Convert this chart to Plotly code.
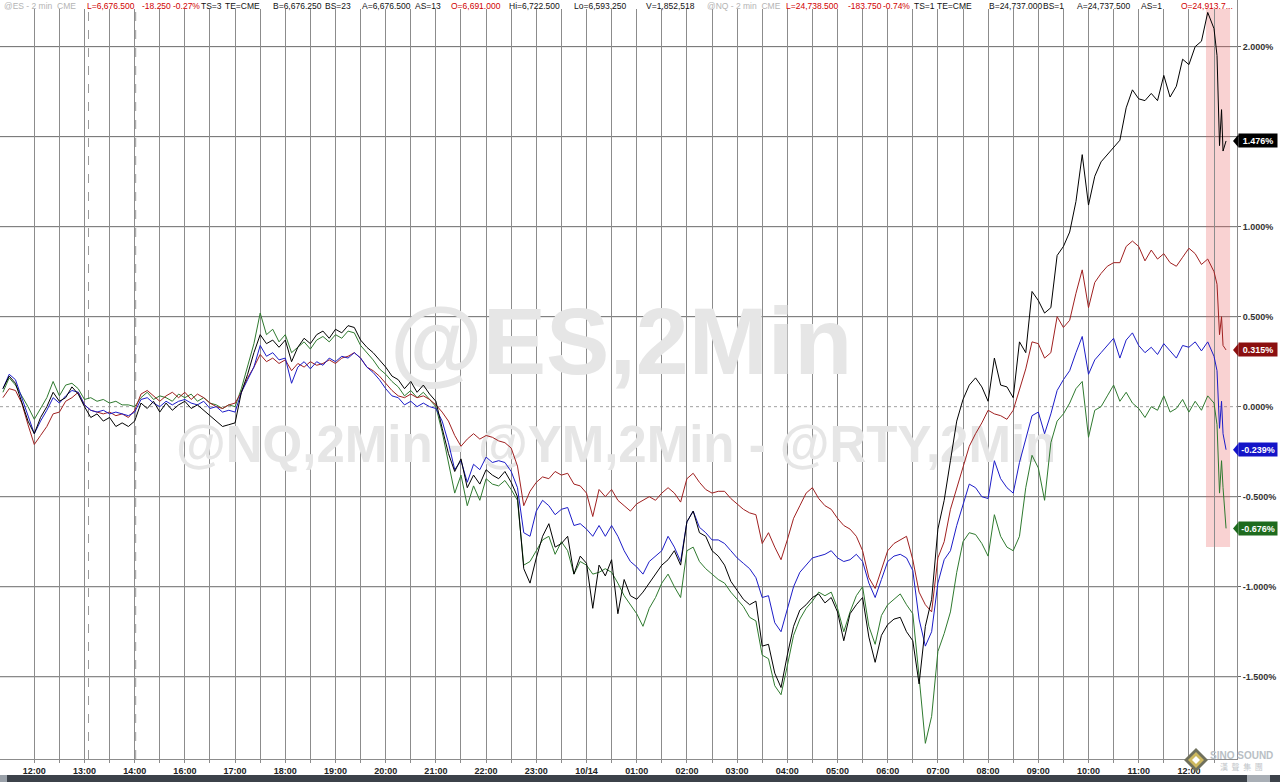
import numpy as np
import plotly.graph_objects as go

# hour labels on the session axis (14:00 -> 16:00 is the break)
hour_labels = ["12:00", "13:00", "14:00", "16:00", "17:00", "18:00", "19:00", "20:00",
               "21:00", "22:00", "23:00", "10/14", "01:00", "02:00", "03:00", "04:00",
               "05:00", "06:00", "07:00", "08:00", "09:00", "10:00", "11:00", "12:00"]

# time index in hours from the first 12:00 label (7.5 min steps, then the last bars)
t_main = np.arange(-0.625, 23.4, 0.125)
t_tail = [23.50, 23.56, 23.61, 23.65, 23.68, 23.74]
t = list(t_main) + t_tail

# % change
nq = [0.10, 0.17, 0.13, 0.02, -0.08,
      -0.15, -0.06, 0.00, 0.08, 0.03, 0.05, 0.11, 0.07,
      0.00, -0.06, -0.04, -0.08, -0.06, -0.11, -0.09, -0.11,
      -0.08, 0.02, -0.01, 0.03, -0.03, 0.02, -0.02, 0.01,
      0.03, -0.01, 0.01, -0.02, -0.05, -0.08, -0.11, -0.10,
      -0.09, 0.08, 0.18, 0.30, 0.40, 0.35, 0.37, 0.33,
      0.37, 0.25, 0.33, 0.38, 0.35, 0.40, 0.42, 0.38,
      0.43, 0.41, 0.45, 0.44, 0.37, 0.33, 0.30, 0.26,
      0.22, 0.17, 0.15, 0.10, 0.14, 0.08, 0.12, 0.07,
      0.03, -0.12, -0.26, -0.36, -0.29, -0.45, -0.38, -0.43,
      -0.35, -0.38, -0.40, -0.36, -0.42, -0.50, -0.90, -0.98,
      -0.84, -0.72, -0.65, -0.78, -0.76, -0.72, -0.93, -0.83,
      -0.87, -1.12, -0.88, -0.94, -0.85, -1.15, -0.96, -1.05,
      -1.07, -1.03, -0.98, -0.93, -0.88, -0.85, -0.80, -0.88,
      -0.64, -0.58, -0.70, -0.72, -0.80, -0.83, -0.88, -0.97,
      -1.02, -1.07, -1.10, -1.08, -1.33, -1.32, -1.48, -1.56,
      -1.38, -1.22, -1.13, -1.10, -1.06, -1.04, -1.09, -1.06,
      -1.14, -1.30, -1.15, -1.10, -1.06, -1.28, -1.42, -1.27,
      -1.21, -1.18, -1.17, -1.25, -1.30, -1.54, -1.22, -1.07,
      -0.68, -0.52, -0.30, -0.08, 0.04, 0.12, 0.16, 0.11,
      0.03, 0.27, 0.12, 0.11, 0.05, 0.36, 0.30, 0.64,
      0.59, 0.52, 0.55, 0.84, 0.89, 0.97, 1.14, 1.40,
      1.12, 1.28, 1.36, 1.40, 1.44, 1.48, 1.66, 1.76,
      1.71, 1.70, 1.74, 1.70, 1.84, 1.72, 1.78, 1.93,
      1.90, 2.00, 2.03, 2.19, 2.10, 1.95, 1.45, 1.65, 1.42, 1.476]

ym = [0.05, 0.10, 0.09, 0.02, -0.10,
      -0.21, -0.16, -0.11, -0.04, -0.03, 0.03, 0.05, 0.08,
      0.01, -0.02, -0.03, -0.04, -0.03, -0.05, -0.04, -0.06,
      -0.02, 0.07, 0.09, 0.06, 0.03, 0.06, 0.08, 0.05,
      0.08, 0.04, 0.07, 0.05, 0.02, 0.00, -0.01, 0.01,
      0.02, 0.08, 0.16, 0.22, 0.29, 0.25, 0.27, 0.24,
      0.26, 0.20, 0.24, 0.22, 0.25, 0.23, 0.24, 0.26,
      0.24, 0.27, 0.28, 0.30, 0.27, 0.22, 0.20, 0.17,
      0.13, 0.09, 0.06, 0.05, 0.07, 0.05, 0.06, 0.04,
      0.01, -0.03, -0.08, -0.16, -0.22, -0.18, -0.15, -0.18,
      -0.16, -0.17, -0.19, -0.20, -0.23, -0.33, -0.55, -0.47,
      -0.42, -0.39, -0.40, -0.36, -0.38, -0.37, -0.43, -0.44,
      -0.48, -0.61, -0.46, -0.50, -0.46, -0.52, -0.55, -0.58,
      -0.54, -0.52, -0.50, -0.52, -0.48, -0.45, -0.48, -0.53,
      -0.40, -0.37, -0.42, -0.46, -0.48, -0.47, -0.47, -0.51,
      -0.54, -0.57, -0.59, -0.60, -0.76, -0.70, -0.78, -0.85,
      -0.74, -0.62, -0.55, -0.48, -0.45, -0.51, -0.55, -0.57,
      -0.62, -0.66, -0.68, -0.72, -0.80, -0.95, -1.01, -0.90,
      -0.80, -0.76, -0.74, -0.72, -0.85, -1.03, -1.10, -1.14,
      -0.84, -0.75, -0.57, -0.45, -0.34, -0.22, -0.15, -0.09,
      -0.02, -0.04, -0.05, -0.07, -0.02, 0.09, 0.21, 0.36,
      0.35, 0.27, 0.30, 0.50, 0.44, 0.48, 0.63, 0.76,
      0.55, 0.69, 0.74, 0.78, 0.80, 0.80, 0.89, 0.92,
      0.89, 0.81, 0.87, 0.82, 0.85, 0.80, 0.78, 0.83,
      0.88, 0.85, 0.79, 0.82, 0.75, 0.68, 0.40, 0.50, 0.34, 0.315]

es = [0.10, 0.18, 0.15, 0.05, -0.06,
      -0.15, -0.08, -0.02, 0.05, 0.02, 0.06, 0.09, 0.08,
      0.01, -0.02, -0.03, -0.02, -0.04, -0.03, -0.04, -0.05,
      -0.03, 0.04, 0.05, 0.02, 0.00, 0.03, 0.01, 0.03,
      0.04, 0.02, 0.01, 0.03, -0.01, 0.00, -0.03, -0.02,
      -0.03, 0.08, 0.15, 0.22, 0.34, 0.28, 0.30, 0.26,
      0.27, 0.13, 0.22, 0.25, 0.21, 0.25, 0.23, 0.27,
      0.25, 0.28, 0.27, 0.30, 0.27, 0.22, 0.19, 0.15,
      0.10, 0.06, 0.05, 0.01, 0.03, 0.00, 0.02, 0.00,
      -0.01, -0.08, -0.20, -0.35, -0.30, -0.42, -0.32, -0.35,
      -0.28, -0.31, -0.30, -0.31, -0.36, -0.45, -0.70, -0.72,
      -0.58, -0.52, -0.55, -0.60, -0.57, -0.56, -0.66, -0.65,
      -0.68, -0.72, -0.66, -0.72, -0.66, -0.72, -0.80, -0.86,
      -0.89, -0.93, -0.86, -0.83, -0.80, -0.72, -0.78, -0.86,
      -0.64, -0.58, -0.67, -0.70, -0.74, -0.74, -0.76, -0.80,
      -0.84, -0.87, -0.90, -0.95, -1.06, -1.05, -1.20, -1.25,
      -1.12, -1.00, -0.92, -0.88, -0.84, -0.83, -0.82, -0.80,
      -0.84, -0.86, -0.85, -0.82, -0.86, -0.98, -1.06, -0.96,
      -0.86, -0.83, -0.82, -0.84, -0.91, -1.18, -1.33, -1.25,
      -0.98, -0.85, -0.80, -0.66, -0.54, -0.43, -0.45, -0.50,
      -0.51, -0.30, -0.40, -0.45, -0.48, -0.31, -0.18, -0.05,
      -0.03, -0.15, -0.04, 0.09, 0.15, 0.20, 0.30, 0.39,
      0.18, 0.26, 0.30, 0.34, 0.38, 0.27, 0.37, 0.41,
      0.34, 0.30, 0.33, 0.29, 0.35, 0.31, 0.27, 0.34,
      0.33, 0.36, 0.31, 0.36, 0.28, 0.20, -0.12, 0.03, -0.15, -0.239]

rty = [0.08, 0.16, 0.12, 0.06, 0.00,
       -0.07, -0.01, 0.05, 0.14, 0.06, 0.12, 0.13, 0.10,
       0.04, 0.05, 0.03, 0.04, 0.02, 0.03, 0.01, 0.01,
       0.00, 0.05, 0.08, 0.04, 0.06, 0.05, 0.03, 0.07,
       0.05, 0.07, 0.03, 0.05, 0.02, 0.01, -0.01, 0.01,
       0.00, 0.10, 0.22, 0.35, 0.52, 0.40, 0.43, 0.36,
       0.40, 0.30, 0.33, 0.36, 0.32, 0.37, 0.39, 0.36,
       0.40, 0.38, 0.42, 0.41, 0.34, 0.30, 0.26, 0.21,
       0.18, 0.14, 0.11, 0.06, 0.09, 0.05, 0.08, 0.04,
       0.00, -0.14, -0.32, -0.48, -0.38, -0.55, -0.44, -0.52,
       -0.40, -0.43, -0.44, -0.41, -0.46, -0.52, -0.88, -0.86,
       -0.80, -0.74, -0.72, -0.82, -0.75, -0.80, -0.93, -0.86,
       -0.88, -0.93, -0.92, -0.90, -0.92, -0.98, -1.05, -1.10,
       -1.15, -1.22, -1.12, -1.06, -0.98, -0.93, -1.00, -1.06,
       -0.80, -0.78, -0.86, -0.90, -0.93, -0.96, -0.98, -1.03,
       -1.07, -1.11, -1.17, -1.19, -1.38, -1.40, -1.55, -1.60,
       -1.44, -1.27, -1.18, -1.12, -1.08, -1.03, -1.05, -1.03,
       -1.12, -1.25, -1.14, -1.05, -1.00, -1.22, -1.32, -1.16,
       -1.10, -1.07, -1.04, -1.10, -1.15, -1.50, -1.87, -1.72,
       -1.36, -1.26, -1.14, -0.92, -0.75, -0.70, -0.71, -0.76,
       -0.83, -0.60, -0.72, -0.78, -0.80, -0.72, -0.45, -0.27,
       -0.34, -0.52, -0.20, -0.08, -0.04, 0.02, 0.10, 0.14,
       -0.17, -0.02, 0.00, 0.06, 0.12, 0.03, 0.08, 0.02,
       -0.01, -0.06, 0.00, -0.02, 0.06, -0.03, -0.01, 0.04,
       -0.03, 0.03, -0.02, 0.06, 0.02, -0.10, -0.48, -0.30, -0.45, -0.676]

ytick_vals = [-1.5, -1.0, -0.5, 0.0, 0.5, 1.0, 1.5, 2.0]

# (text, colour, left edge in px) for the quote line at the top
header = [("@ES - 2 min  CME", "#b4b4b4", 2), ("L=6,676.500", "#d00000", 85),
          ("-18.250", "#d00000", 140), ("-0.27%", "#d00000", 171), ("TS=3", "#111", 199),
          ("TE=CME", "#111", 223), ("B=6,676.250", "#111", 271), ("BS=23", "#111", 323),
          ("A=6,676.500", "#111", 360), ("AS=13", "#111", 413), ("O=6,691.000", "#d00000", 449),
          ("Hi=6,722.500", "#111", 507), ("Lo=6,593.250", "#111", 572), ("V=1,852,518", "#111", 644),
          ("@NQ - 2 min  CME", "#b4b4b4", 705), ("L=24,738.500", "#d00000", 784),
          ("-183.750", "#d00000", 846), ("-0.74%", "#d00000", 881), ("TS=1", "#111", 912),
          ("TE=CME", "#111", 935), ("B=24,737.000", "#111", 987), ("BS=1", "#111", 1041),
          ("A=24,737.500", "#111", 1075), ("AS=1", "#111", 1139), ("O=24,913.7...", "#d00000", 1179)]

series = [("RTY", rty, "#2f7a2f", "#1e6b1e"),
          ("YM", ym, "#a02020", "#8b1010"),
          ("ES", es, "#1c1cc8", "#1414c8"),
          ("NQ", nq, "#000000", "#000000")]

PW = 1237.0  # plot width in px
PH = 759.0   # plot height in px

fig = go.Figure()

# watermark under the lines
fig.add_trace(go.Scatter(x=[11.69, 11.59], y=[0.315, -0.235], mode="text",
                         text=["@ES,2Min", "@NQ,2Min - @YM,2Min - @RTY,2Min"],
                         textfont=dict(size=[95, 51], color="#e6e6e6", family="Liberation Sans, Arial",
                                       weight="bold"),
                         hoverinfo="skip", showlegend=False))

for name, vals, col, tagcol in series:
    fig.add_trace(go.Scatter(x=t, y=vals, mode="lines", name=name,
                             line=dict(color=col, width=1), showlegend=False))

shapes = []
# red highlight of the last bars
shapes.append(dict(type="rect", xref="x", yref="y", x0=23.34, x1=23.82, y0=-0.78, y1=2.26,
                   fillcolor="rgba(235,95,95,0.28)", line=dict(width=0), layer="below"))
for v in ytick_vals:
    shapes.append(dict(type="line", xref="paper", yref="y", x0=0, x1=1, y0=v, y1=v,
                       line=dict(color="#a0a0a0" if v == 0 else "#6a6a6a", width=1,
                                 dash="dot" if v == 0 else "solid"), layer="below"))
# session separators
for xv in [1.08, 2.02]:
    shapes.append(dict(type="line", xref="x", yref="paper", x0=xv, x1=xv, y0=0, y1=1,
                       line=dict(color="#9a9a9a", width=1, dash="dash"), layer="below"))
# white band behind the quote line
shapes.append(dict(type="rect", xref="paper", yref="paper", x0=0, x1=1, y0=1 - 9 / PH, y1=1,
                   fillcolor="white", line=dict(width=0), layer="above"))
# dark strip at the bottom
shapes.append(dict(type="rect", xref="paper", yref="paper", x0=0, x1=1280 / PW,
                   y0=-(782 - PH) / PH, y1=-(775 - PH) / PH,
                   fillcolor="#3c424a", line=dict(width=0), layer="above"))
shapes.append(dict(type="rect", xref="paper", yref="paper", x0=0, x1=7 / PW,
                   y0=-(782 - PH) / PH, y1=-(775 - PH) / PH,
                   fillcolor="#9aa1a9", line=dict(width=0), layer="above"))
shapes.append(dict(type="rect", xref="paper", yref="paper", x0=1247 / PW, x1=1270 / PW,
                   y0=-(782 - PH) / PH, y1=-(775 - PH) / PH,
                   fillcolor="#a8aeb5", line=dict(width=0), layer="above"))
# logo diamond
cx, cy = 1196 / PW, (PH - 760) / PH
for r, c in [(12, "#6f705c"), (8, "#cdb85e"), (4, "#ffffff")]:
    dx, dy = r / PW, r / PH
    shapes.append(dict(type="path", xref="paper", yref="paper",
                       path=f"M {cx - dx} {cy} L {cx} {cy + dy} L {cx + dx} {cy} L {cx} {cy - dy} Z",
                       fillcolor=c, line=dict(width=0), layer="above"))

annotations = []
for txt, col, px in header:
    annotations.append(dict(text=txt, xref="paper", yref="paper", x=px / PW, y=1,
                            xanchor="left", yanchor="top", showarrow=False, yshift=1,
                            font=dict(size=8.5, color=col, family="Liberation Sans, Arial")))

# last-value tags on the right
for name, vals, col, tagcol in series:
    v = vals[-1]
    annotations.append(dict(text=f"<b>{v:.3f}%</b>", xref="paper", yref="y", x=1, y=v,
                            xanchor="left", yanchor="middle", xshift=1, showarrow=False,
                            width=36, height=11, borderpad=1, bgcolor=tagcol, align="center",
                            font=dict(size=9, color="white", family="Liberation Sans, Arial")))
    shapes.append(dict(type="path", xref="paper", yref="y",
                       path=f"M {1233 / PW} {v} L {1238.5 / PW} {v + 0.036} L {1238.5 / PW} {v - 0.036} Z",
                       fillcolor=tagcol, line=dict(width=0), layer="above"))

annotations.append(dict(text="<b>SINO SOUND</b>", xref="paper", yref="paper", x=1241 / PW,
                        y=(PH - 755) / PH, showarrow=False, xanchor="center", yanchor="middle",
                        font=dict(size=10, color="#b9bfc5", family="Liberation Sans, Arial")))
annotations.append(dict(text="漢  聲  集  團", xref="paper", yref="paper", x=1241 / PW,
                        y=(PH - 766) / PH, showarrow=False, xanchor="center", yanchor="middle",
                        font=dict(size=8, color="#c2c6ca", family="Noto Sans CJK TC")))

fig.update_layout(
    width=1280, height=782,
    margin=dict(l=0, r=43, t=0, b=23),
    paper_bgcolor="white", plot_bgcolor="white",
    showlegend=False,
    font=dict(family="Liberation Sans, Arial", color="#222"),
    shapes=shapes, annotations=annotations,
    xaxis=dict(range=[-0.683, 23.958], tickmode="array", tickvals=list(range(24)),
               ticktext=hour_labels, showgrid=True, gridcolor="#8c8c8c", gridwidth=1,
               minor=dict(tickvals=[h + 0.5 for h in range(24)], showgrid=True,
                          gridcolor="#8c8c8c", gridwidth=1, ticks="outside", ticklen=3,
                          tickcolor="#8c8c8c"),
               ticks="outside", ticklen=3, tickcolor="#8c8c8c",
               showline=True, linecolor="#8c8c8c", zeroline=False,
               tickfont=dict(size=9, color="#222", weight="bold")),
    yaxis=dict(range=[-1.957, 2.259], side="right", tickmode="array", tickvals=ytick_vals,
               ticktext=[f"{v:.3f}%" for v in ytick_vals], showgrid=False, zeroline=False,
               ticks="outside", ticklen=3, tickcolor="#666", showline=True, linecolor="#8c8c8c",
               tickfont=dict(size=9, color="#333", weight="bold")),
)

# page body has an 8px default margin; drop it so the figure sits at the window corner
fig.write_html("out.html", config={"displayModeBar": False},
               post_script="document.body.style.margin='0px';")
